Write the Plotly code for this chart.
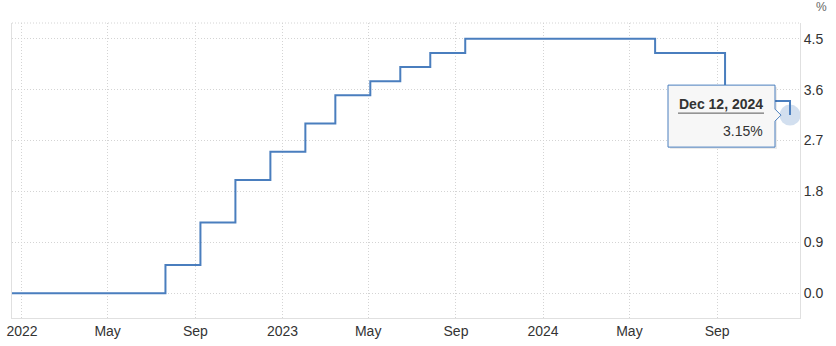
import plotly.graph_objects as go

# ---- data ----
dates = ["2021-12-12", "2022-07-21", "2022-09-08", "2022-10-27", "2022-12-15",
         "2023-02-02", "2023-03-16", "2023-05-04", "2023-06-15", "2023-07-27",
         "2023-09-14", "2024-06-06", "2024-09-12", "2024-10-17", "2024-12-12"]
rates = [0.0, 0.5, 1.25, 2.0, 2.5, 3.0, 3.5, 3.75, 4.0, 4.25, 4.5, 4.25, 3.65, 3.4, 3.15]

x_tick_vals = ["2022-01-01", "2022-05-01", "2022-09-01", "2023-01-01", "2023-05-01",
               "2023-09-01", "2024-01-01", "2024-05-01", "2024-09-01"]
x_tick_text = ["2022", "May", "Sep", "2023", "May", "Sep", "2024", "May", "Sep"]
y_tick_vals = [0.0, 0.9, 1.8, 2.7, 3.6, 4.5]
y_tick_text = ["0.0", "0.9", "1.8", "2.7", "3.6", "4.5"]

tooltip_title = "Dec 12, 2024"
tooltip_value = f"{rates[-1]:.2f}%"

LINE = "#4a7ebe"
TXT = "#333333"
GRID = "#d4d4d4"
FONT = "Liberation Sans, Arial, sans-serif"

fig = go.Figure()
fig.add_trace(go.Scatter(x=dates, y=rates, mode="lines", line=dict(color=LINE, width=2, shape="hv"),
                         hoverinfo="skip"))
fig.add_trace(go.Scatter(x=[dates[-1]], y=[rates[-1]], mode="markers",
                         marker=dict(size=21, color="rgba(74,126,190,0.25)", line=dict(width=0)),
                         hoverinfo="skip"))

xa, ya = dates[-1], rates[-1]
shapes = [
    # top border dotted
    dict(type="line", xref="paper", yref="paper", x0=0, x1=1, y0=1, y1=1,
         line=dict(color=GRID, width=1, dash="1px,2px")),
    # tooltip shadow
    dict(type="rect", xref="x", yref="y", xsizemode="pixel", ysizemode="pixel",
         xanchor=xa, yanchor=ya, x0=-120, x1=-13, y0=28, y1=-34,
         fillcolor="rgba(0,0,0,0.08)", line=dict(width=0), layer="above"),
    # tooltip box
    dict(type="path", xref="x", yref="y", xsizemode="pixel", ysizemode="pixel",
         xanchor=xa, yanchor=ya,
         path="M -122 30 L -15 30 L -15 6 L -9 0 L -15 -6 L -15 -32 L -122 -32 Z",
         fillcolor="#f7f7f7", line=dict(color=LINE, width=1), layer="above"),
    # underline
    dict(type="line", xref="x", yref="y", xsizemode="pixel", ysizemode="pixel",
         xanchor=xa, yanchor=ya, x0=-112, x1=-26, y0=2, y1=2,
         line=dict(color="#555555", width=1), layer="above"),
]
fig.update_layout(shapes=shapes)

fig.add_annotation(x=xa, y=ya, xref="x", yref="y", text=f"<b>{tooltip_title}</b>", showarrow=False,
                   xanchor="center", yanchor="middle", xshift=-69, yshift=11,
                   font=dict(family=FONT, size=14, color=TXT))
fig.add_annotation(x=xa, y=ya, xref="x", yref="y", text=tooltip_value, showarrow=False,
                   xanchor="right", yanchor="middle", xshift=-25, yshift=-16,
                   font=dict(family=FONT, size=14, color=TXT))
fig.add_annotation(x=1, y=1, xref="paper", yref="paper", text="%", showarrow=False,
                   xanchor="center", yanchor="bottom", xshift=21, yshift=7,
                   font=dict(family=FONT, size=12, color="#666666"))

fig.update_layout(
    width=836, height=346,
    margin=dict(l=12, r=36, t=23, b=28, autoexpand=False),
    paper_bgcolor="white", plot_bgcolor="white",
    showlegend=False, hovermode=False,
    font=dict(family=FONT, size=14, color=TXT),
    xaxis=dict(type="date", range=["2021-12-18", "2024-12-26"], automargin=False,
               tickvals=x_tick_vals, ticktext=x_tick_text,
               showgrid=True, gridcolor=GRID, griddash="1px,2px", gridwidth=1,
               showline=True, linecolor="#e0e0e0", linewidth=1,
               ticks="", zeroline=False, fixedrange=True,
               tickfont=dict(family=FONT, size=14, color=TXT)),
    yaxis=dict(side="right", range=[-0.44, 4.78], automargin=False,
               tickvals=y_tick_vals, ticktext=y_tick_text,
               showgrid=True, gridcolor=GRID, griddash="1px,2px", gridwidth=1,
               showline=True, linecolor="#e0e0e0", linewidth=1, mirror=True,
               ticks="", zeroline=False, fixedrange=True,
               tickfont=dict(family=FONT, size=14, color=TXT)),
)

fig.write_html("out.html", config={"displayModeBar": False})
